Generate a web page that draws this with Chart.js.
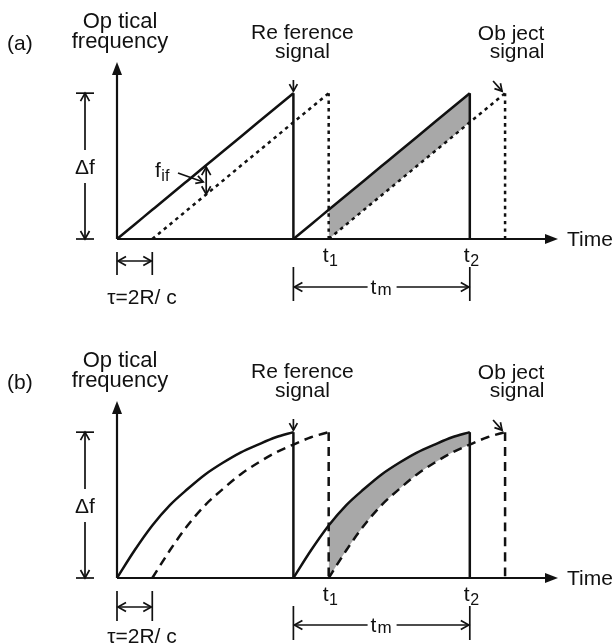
<!DOCTYPE html>
<html>
<head>
<meta charset="utf-8">
<script src="https://cdn.jsdelivr.net/npm/chart.js@4.4.1/dist/chart.umd.min.js"></script>
<style>
  body { margin: 0; background: #fff; }
  canvas { position: absolute; left: 0; }
  #chartA { top: 0; }
  #chartB { top: 321px; }
</style>
</head>
<body>
<canvas id="chartA" width="615" height="321"></canvas>
<canvas id="chartB" width="615" height="322"></canvas>
<script>
// sweep shape: fraction of Δf reached at each fraction of the period
const sweepPhase  = [0, 0.1, 0.2, 0.3, 0.4, 0.5, 0.6, 0.7, 0.8, 0.9, 1.0];
const sweepLinear = [0, 0.1, 0.2, 0.3, 0.4, 0.5, 0.6, 0.7, 0.8, 0.9, 1.0];
const sweepCurved = [0, 0.19, 0.36, 0.50, 0.61, 0.71, 0.79, 0.86, 0.915, 0.965, 1.0];
const periodStarts = [0, 1];      // reference sweeps start here
const delayTau = 0.2;             // τ = 2R/c, lag of the object signal
const markTimes = [1.2, 2.0];     // t1, t2
const markSubs = ['1', '2'];
const timeMax = 2.5;
const freqMax = 1.2;

const INK = '#111';
const FONT = '"Liberation Sans", Arial, sans-serif';

function rampPoints(start, sweep) {
  return sweepPhase.map((p, i) => ({ x: +(start + p).toFixed(4), y: sweep[i] }));
}

function buildDatasets(sweep, dash) {
  const ds = [];
  const last = sweep[sweep.length - 1];
  const solid = { borderColor: INK, borderWidth: 2.5, pointRadius: 0, fill: false, clip: false,
                  cubicInterpolationMode: 'monotone' };
  const broken = { ...solid, borderWidth: 2.5, borderDash: dash };
  // reference signal
  periodStarts.forEach(s => {
    ds.push({ ...solid, data: rampPoints(s, sweep) });
    ds.push({ ...solid, data: [{ x: s + 1, y: last }, { x: s + 1, y: 0 }] });
  });
  // object signal, delayed by tau
  periodStarts.forEach(s => {
    const d = +(s + delayTau).toFixed(4);
    ds.push({ ...broken, data: rampPoints(d, sweep) });
    ds.push({ ...broken, data: [{ x: d + 1, y: last }, { x: d + 1, y: 0 }] });
  });
  // grey beat area between t1 and t2
  const [t1, t2] = markTimes;
  const top = rampPoints(periodStarts[1], sweep).filter(p => p.x >= t1 - 1e-6);
  const bottom = rampPoints(periodStarts[1] + delayTau, sweep).filter(p => p.x <= t2 + 1e-6);
  ds.push({ data: top, borderColor: 'rgba(0,0,0,0)', borderWidth: 0, pointRadius: 0,
            fill: '+1', backgroundColor: '#a8a8a8', cubicInterpolationMode: 'monotone', clip: false });
  ds.push({ data: bottom, borderColor: 'rgba(0,0,0,0)', borderWidth: 0, pointRadius: 0,
            fill: false, cubicInterpolationMode: 'monotone', clip: false });
  return ds;
}

// little drawing helpers
function line(ctx, x1, y1, x2, y2) {
  ctx.beginPath(); ctx.moveTo(x1, y1); ctx.lineTo(x2, y2); ctx.stroke();
}
function openHead(ctx, x, y, ang, len = 8, half = 4.5) {
  const c = Math.cos(ang), s = Math.sin(ang);
  ctx.beginPath();
  ctx.moveTo(x - len * c - half * s, y - len * s + half * c);
  ctx.lineTo(x, y);
  ctx.lineTo(x - len * c + half * s, y - len * s - half * c);
  ctx.stroke();
}
function solidHead(ctx, x, y, ang, len = 13, half = 5) {
  const c = Math.cos(ang), s = Math.sin(ang);
  ctx.beginPath();
  ctx.moveTo(x, y);
  ctx.lineTo(x - len * c - half * s, y - len * s + half * c);
  ctx.lineTo(x - len * c + half * s, y - len * s - half * c);
  ctx.closePath(); ctx.fill();
}
function dimArrow(ctx, x1, y1, x2, y2) {
  line(ctx, x1, y1, x2, y2);
  const a = Math.atan2(y2 - y1, x2 - x1);
  openHead(ctx, x2, y2, a);
  openHead(ctx, x1, y1, a + Math.PI);
}
function text(ctx, str, x, y, size = 21, align = 'center') {
  ctx.font = size + 'px ' + FONT;
  ctx.textAlign = align;
  ctx.textBaseline = 'alphabetic';
  ctx.fillText(str, x, y);
}
function subText(ctx, main, sub, x, y) {
  // x is left edge of the main letter
  text(ctx, main, x, y, 21, 'left');
  ctx.font = '21px ' + FONT;
  const w = ctx.measureText(main).width;
  text(ctx, sub, x + w + 0.5, y + 4, 16, 'left');
}

function sketchPlugin(panel) {
  return {
    id: 'sketch',
    afterDatasetsDraw(chart) {
      const { ctx, scales: { x, y } } = chart;
      const X = v => x.getPixelForValue(v);
      const Y = v => y.getPixelForValue(v);
      const x0 = X(0), y0 = Y(0), yTop = Y(1);
      ctx.save();
      ctx.strokeStyle = INK; ctx.fillStyle = INK; ctx.lineWidth = 2.2;
      ctx.setLineDash([]);

      // axes
      line(ctx, x0, y0, X(timeMax) - 6, y0);
      solidHead(ctx, X(timeMax), y0, 0);
      line(ctx, x0, y0, x0, Y(freqMax) + 4);
      solidHead(ctx, x0, Y(freqMax) - 2, -Math.PI / 2);
      text(ctx, 'Time', X(timeMax) + 9, y0 + 7, 21, 'left');

      // titles
      text(ctx, panel.tag, 7, y0 - 189, 21, 'left');
      text(ctx, 'Op tical', x0 + 3, y0 - 211, 22);
      text(ctx, 'frequency', x0 + 3, y0 - 191, 22);
      text(ctx, 'Re ference', X(1) + 9, y0 - 200);
      text(ctx, 'signal', X(1) + 9, y0 - 181);
      const xo = X(periodStarts[1] + 1 + delayTau);
      text(ctx, 'Ob ject', xo + 6, y0 - 199);
      text(ctx, 'signal', xo + 12, y0 - 181);

      ctx.lineWidth = 1.7;
      // pointers to the sweep tops
      line(ctx, X(1), y0 - 159, X(1), yTop - 2);
      openHead(ctx, X(1), yTop - 2, Math.PI / 2, 7, 4);
      line(ctx, xo - 12, y0 - 158, xo - 3, yTop - 2);
      openHead(ctx, xo - 3, yTop - 2, Math.atan2(yTop - 2 - (y0 - 158), 9), 7, 4);

      // Δf
      const xd = x0 - 32;
      line(ctx, xd - 9, yTop, xd + 9, yTop);
      line(ctx, xd - 9, y0, xd + 9, y0);
      line(ctx, xd, yTop, xd, Y(0.5) - 16);
      openHead(ctx, xd, yTop, -Math.PI / 2);
      line(ctx, xd, Y(0.5) + 17, xd, y0);
      openHead(ctx, xd, y0, Math.PI / 2);
      text(ctx, 'Δf', xd, Y(0.5) + 8);

      // f_if (upper panel only)
      if (panel.showIf) {
        const xf = X(0.5) + 1;
        dimArrow(ctx, xf, Y(0.5) + 1, xf, Y(0.5 - delayTau) - 1);
        subText(ctx, 'f', 'if', x0 + 38, y0 - 62);
        line(ctx, x0 + 61, y0 - 66, xf - 3, y0 - 57);
        openHead(ctx, xf - 3, y0 - 57, Math.atan2(9, xf - 3 - x0 - 61), 7, 4);
      }

      // τ = 2R/c
      const xt = X(delayTau);
      line(ctx, x0, y0 + 13, x0, y0 + 13 + panel.tauLen);
      line(ctx, xt, y0 + 13, xt, y0 + 13 + panel.tauLen);
      dimArrow(ctx, x0 + 1, y0 + panel.tauDy, xt - 1, y0 + panel.tauDy);
      text(ctx, 'τ=2R/ c', x0 + 25, y0 + 65);

      // t1, t2
      markTimes.forEach((t, i) => subText(ctx, 't', markSubs[i], X(t) - 6, y0 + 23));

      // t_m
      const xa = X(periodStarts[1]), xb = X(markTimes[1]);
      const ym = y0 + panel.tmDy;
      line(ctx, xa, y0 + 28, xa, y0 + 62);
      line(ctx, xb, y0 + 28, xb, y0 + 62);
      const xc = (xa + xb) / 2;
      line(ctx, xa + 1, ym, xc - 14, ym);
      openHead(ctx, xa + 1, ym, Math.PI);
      line(ctx, xc + 15, ym, xb - 1, ym);
      openHead(ctx, xb - 1, ym, 0);
      text(ctx, 't', xc - 11, ym + 7, 21, 'left');
      text(ctx, 'm', xc - 4, ym + 8, 17, 'left');

      ctx.restore();
    }
  };
}

function makeChart(id, sweep, dash, pad, panel) {
  return new Chart(document.getElementById(id), {
    type: 'line',
    data: { datasets: buildDatasets(sweep, dash) },
    options: {
      responsive: false,
      devicePixelRatio: 1,
      animation: false,
      events: [],
      layout: { padding: pad },
      scales: {
        x: { type: 'linear', min: 0, max: timeMax, display: false },
        y: { type: 'linear', min: 0, max: freqMax, display: false }
      },
      plugins: {
        legend: { display: false },
        tooltip: { enabled: false },
        filler: { drawTime: 'beforeDatasetsDraw' }
      }
    },
    plugins: [sketchPlugin(panel)]
  });
}

makeChart('chartA', sweepLinear, [3.5, 4], { left: 117, right: 57, top: 64, bottom: 82 },
          { tag: '(a)', showIf: true, tauDy: 22, tauLen: 23, tmDy: 48 });
makeChart('chartB', sweepCurved, [9, 6], { left: 117, right: 57, top: 82, bottom: 65 },
          { tag: '(b)', showIf: false, tauDy: 29, tauLen: 30, tmDy: 47 });
</script>
</body>
</html>
